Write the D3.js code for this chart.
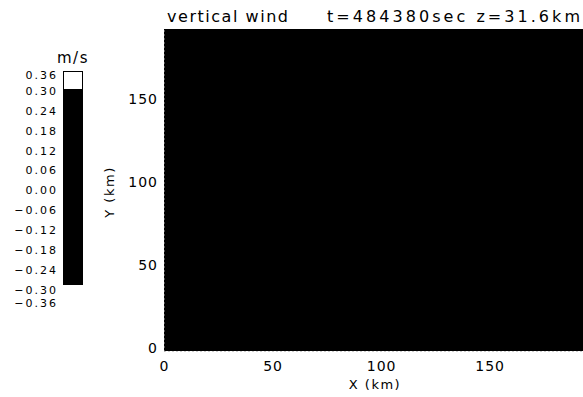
<!DOCTYPE html>
<html>
<head>
<meta charset="utf-8">
<script src="https://cdn.jsdelivr.net/npm/d3@7.9.0/dist/d3.min.js"></script>
<style>
  body { margin: 0; background: #fff; }
  svg text { font-family: "DejaVu Sans", sans-serif; fill: #000; }
</style>
</head>
<body>
<svg id="chart" width="583" height="397"></svg>
<script>
// contour levels of the colour bar (m/s)
const levels = [0.36, 0.30, 0.24, 0.18, 0.12, 0.06, 0.00, -0.06, -0.12, -0.18, -0.24, -0.30, -0.36];
const levelLabels = ['0.36', '0.30', '0.24', '0.18', '0.12', '0.06', '0.00', '\u22120.06', '\u22120.12', '\u22120.18', '\u22120.24', '\u22120.30', '\u22120.36'];
// field values: the whole slice sits inside the dark band
const cellX = [0];
const cellY = [0];
const cellW = [193];
const cellH = [194];
const cellValue = [0.0];
const xTicks = [0, 50, 100, 150];
const yTicks = [0, 50, 100, 150];
const xExtent = [0, 193];
const yExtent = [0, 194];

const svg = d3.select('#chart');

const x = d3.scaleLinear().domain(xExtent).range([164, 583]);
const y = d3.scaleLinear().domain(yExtent).range([351, 29]);

// everything below 0.30 is black, top band white
const color = d3.scaleThreshold().domain([0.30]).range(['#000', '#fff']);

cellValue.forEach((v, i) => {
    svg.append('rect')
        .attr('x', x(cellX[i]))
        .attr('y', y(cellY[i] + cellH[i]))
        .attr('width', x(cellX[i] + cellW[i]) - x(cellX[i]))
        .attr('height', y(cellY[i]) - y(cellY[i] + cellH[i]))
        .attr('fill', color(v));
});

// axes
let xAxis = svg.append('g')
    .attr('transform', 'translate(0,351)')
    .call(d3.axisBottom(x).tickValues(xTicks).tickSize(0).tickPadding(10));
let yAxis = svg.append('g')
    .attr('transform', 'translate(164,0)')
    .call(d3.axisLeft(y).tickValues(yTicks).tickSize(0).tickPadding(6));
[xAxis, yAxis].forEach((g) => {
    g.select('.domain').attr('stroke', '#999').attr('stroke-dasharray', '1,3');
    g.selectAll('text')
        .style('font-family', '"DejaVu Sans", sans-serif')
        .style('font-size', '14px')
        .style('letter-spacing', '1px')
        .attr('fill', '#000');
});
yAxis.selectAll('text').attr('dy', '0.1em');

svg.append('text')
    .attr('x', 375).attr('y', 389)
    .attr('text-anchor', 'middle')
    .style('font-size', '13px').style('letter-spacing', '1.5px')
    .text('X (km)');

svg.append('text')
    .attr('transform', 'translate(114,192) rotate(-90)')
    .attr('text-anchor', 'middle')
    .style('font-size', '13px').style('letter-spacing', '1.5px')
    .text('Y (km)');

// title
svg.append('text')
    .attr('x', 167).attr('y', 22)
    .attr('textLength', 121).attr('lengthAdjust', 'spacing')
    .style('font-size', '16px')
    .text('vertical wind');
svg.append('text')
    .attr('x', 327).attr('y', 22)
    .attr('textLength', 253).attr('lengthAdjust', 'spacing')
    .style('font-size', '16px')
    .text('t=484380sec z=31.6km');

// colour bar
const barY = d3.scaleLinear().domain([0.36, -0.36]).range([71, 285]);
const labelY = d3.scaleLinear().domain([0.36, 0.30, -0.30, -0.36]).range([75, 91, 290, 303]);

for (let i = 0; i < levels.length - 1; i++) {
    let mid = (levels[i] + levels[i + 1]) / 2;
    svg.append('rect')
        .attr('x', 63).attr('width', 20)
        .attr('y', Math.round(barY(levels[i])))
        .attr('height', Math.round(barY(levels[i + 1])) - Math.round(barY(levels[i])))
        .attr('shape-rendering', 'crispEdges')
        .attr('fill', color(mid));
}
svg.append('rect')
    .attr('x', 63.5).attr('y', 71.5).attr('width', 19).attr('height', 213)
    .attr('fill', 'none').attr('stroke', '#000').attr('stroke-width', 1);

levels.forEach((lv, i) => {
    svg.append('text')
        .attr('x', 58).attr('y', labelY(lv))
        .attr('dy', '0.35em')
        .attr('text-anchor', 'end')
        .style('font-size', '11px').style('letter-spacing', '2px')
        .text(levelLabels[i]);
});

svg.append('text')
    .attr('x', 73).attr('y', 63)
    .attr('text-anchor', 'middle')
    .style('font-size', '15px').style('letter-spacing', '1.5px')
    .text('m/s');
</script>
</body>
</html>
